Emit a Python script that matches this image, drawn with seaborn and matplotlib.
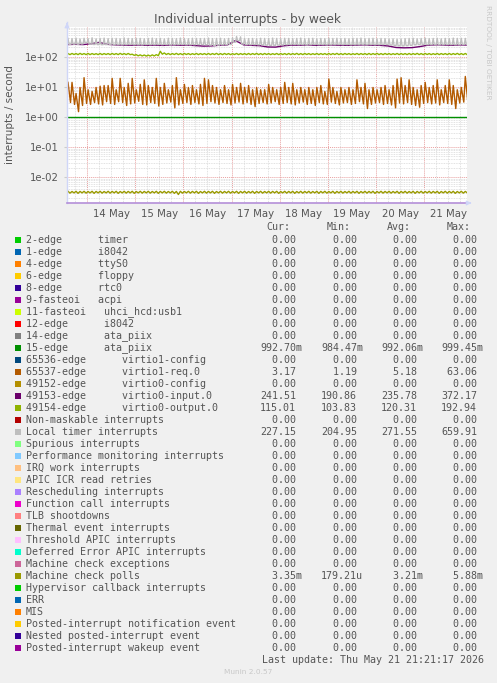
import numpy as np
import pandas as pd
import matplotlib
matplotlib.use("Agg")
import matplotlib.pyplot as plt
from matplotlib.patches import Rectangle
from matplotlib.ticker import FixedLocator, NullFormatter, LogLocator
import seaborn as sns

# ---------------- data ----------------
START = pd.Timestamp("2026-05-13 14:00")
END = pd.Timestamp("2026-05-21 21:21")
day_labels = ["14 May", "15 May", "16 May", "17 May", "18 May", "19 May", "20 May", "21 May"]
ytick_vals = [1e-2, 1e-1, 1e0, 1e1, 1e2]
ytick_labels = ["1e-02", "1e-01", "1e+00", "1e+01", "1e+02"]

# 65537-edge virtio1-req.0 : peaks / lows of each ~2 h cycle
orange_peaks = [14, 14, 6, 9.5, 20, 8, 7, 9.5, 10.5, 11,
                11, 19, 8, 19, 9.5, 13, 19, 8, 12, 17,
                11, 9.5, 19, 9.5, 13, 8, 11, 20, 8, 12,
                9.5, 11, 8, 12, 19, 17, 11, 9.5, 8, 11,
                8, 12, 9.5, 13, 9.5, 11, 8, 9.5, 8, 8,
                12, 9.5, 8, 9.5, 14, 9.5, 13, 8, 9.5, 8,
                9.5, 8, 9.5, 11, 7, 18, 9.5, 7, 9.5, 8,
                9.5, 8, 17, 9.5, 13, 8, 9.5, 8, 9.5, 11,
                8, 11, 18, 20, 11, 17, 9.5, 8, 11, 14,
                9.5, 11, 17, 8, 11, 17, 11, 8, 9.5, 22]
orange_lows = [3.0, 2.6, 1.5, 2.4, 2.8, 2.6, 3.0, 2.7, 2.5, 3.2,
               2.8, 2.6, 3.2, 3.0, 2.4, 2.7, 2.9, 3.3, 2.6, 2.5,
               3.0, 2.8, 2.3, 2.6, 2.9, 3.1, 2.0, 2.5, 2.8, 3.0,
               2.6, 3.0, 2.7, 2.4, 2.8, 3.2, 2.9, 2.6, 3.0, 2.8,
               2.5, 2.9, 3.1, 2.7, 3.0, 2.6, 2.2, 2.8, 3.0, 2.7,
               2.9, 3.2, 2.6, 2.8, 3.0, 2.7, 2.5, 2.9, 3.1, 2.6,
               2.8, 2.4, 3.0, 2.7, 2.6, 3.1, 2.8, 2.5, 2.9, 3.0,
               2.6, 2.8, 3.2, 2.7, 1.9, 2.6, 2.9, 3.0, 2.6, 2.8,
               2.5, 2.0, 2.9, 2.7, 3.0, 2.6, 2.4, 2.1, 2.8, 3.0,
               2.7, 2.9, 2.5, 3.0, 2.8, 2.6, 1.9, 2.9, 3.1, 3.2]

# Local timer interrupts : narrow spikes / base of each cycle
gray_peaks = [400, 395, 410, 385, 405, 395, 420, 390, 400, 410,
              395, 405, 400, 390, 415, 400, 395, 405, 400, 390,
              400, 410, 395, 400, 385, 405, 400, 395, 410, 400,
              390, 405, 400, 395, 400, 410, 395, 400, 405, 390,
              400, 420, 460, 450, 405, 395, 400, 390, 405, 400,
              395, 410, 400, 390, 405, 400, 395, 400, 410, 395,
              400, 405, 390, 400, 395, 410, 400, 405, 395, 400,
              390, 405, 400, 410, 395, 400, 405, 390, 400, 395,
              385, 390, 380, 385, 395, 400, 405, 390, 400, 410,
              395, 400, 405, 390, 400, 395, 410, 400, 405, 400]
gray_lows = [255, 258, 256, 262, 290, 258, 252, 250, 248, 250,
             252, 248, 250, 246, 250, 252, 248, 250, 246, 250,
             248, 250, 252, 248, 250, 246, 248, 250, 252, 248,
             246, 248, 250, 252, 248, 240, 236, 240, 246, 250,
             252, 300, 340, 260, 252, 248, 250, 246, 244, 240,
             236, 238, 240, 244, 248, 250, 252, 248, 250, 246,
             250, 252, 248, 250, 246, 248, 250, 252, 248, 250,
             246, 248, 250, 252, 248, 250, 246, 248, 250, 252,
             240, 232, 228, 226, 230, 236, 246, 250, 252, 248,
             250, 252, 248, 250, 252, 250, 248, 250, 252, 250]

# 49153-edge virtio0-input.0 : one value every 4 hours
purple_vals = [250, 255, 250, 265, 295, 255, 245, 240, 238, 242,
               236, 240, 235, 243, 238, 240, 232, 222, 226, 238,
               245, 340, 245, 236, 230, 208, 206, 228, 240, 238,
               244, 236, 240, 242, 238, 236, 240, 245, 238, 236,
               225, 200, 195, 198, 215, 240, 246, 242, 238, 244, 241]

# 49154-edge virtio0-output.0 : high / low of each cycle
green_hi = [126, 127, 126, 128, 126, 127, 126, 125, 127, 126,
            126, 127, 126, 128, 126, 127, 120, 116, 114, 113,
            112, 114, 116, 150, 132, 127, 126, 128, 126, 127,
            126, 125, 127, 126, 126, 127, 126, 128, 126, 127,
            126, 125, 127, 126, 126, 127, 126, 128, 126, 127,
            126, 125, 127, 126, 126, 127, 126, 128, 126, 127,
            126, 125, 127, 126, 126, 127, 126, 128, 126, 127,
            126, 125, 127, 126, 126, 127, 126, 128, 126, 127,
            126, 125, 127, 126, 126, 127, 126, 128, 126, 127,
            126, 125, 127, 126, 126, 127, 126, 128, 126, 127]
green_lo = [116, 117, 116, 117, 116, 116, 117, 116, 116, 117,
            116, 117, 116, 117, 116, 116, 110, 106, 105, 104,
            104, 105, 107, 120, 117, 116, 117, 116, 116, 117,
            116, 117, 116, 117, 116, 116, 117, 116, 116, 117,
            116, 117, 116, 117, 116, 116, 117, 116, 116, 117,
            116, 117, 116, 117, 116, 116, 117, 116, 116, 117,
            116, 117, 116, 117, 116, 116, 117, 116, 116, 117,
            116, 117, 116, 117, 116, 116, 117, 116, 116, 117,
            116, 117, 116, 117, 116, 116, 117, 116, 116, 117,
            116, 117, 116, 117, 116, 116, 117, 116, 116, 115]

# Machine check polls : high / low of each cycle
olive_hi = [
    3.45e-3, 3.40e-3, 3.45e-3, 3.42e-3, 3.45e-3, 3.40e-3, 3.45e-3, 3.42e-3, 3.45e-3, 3.40e-3,
    3.45e-3, 3.42e-3, 3.45e-3, 3.40e-3, 3.45e-3, 3.42e-3, 3.45e-3, 3.40e-3, 3.45e-3, 3.42e-3,
    3.45e-3, 3.40e-3, 3.45e-3, 3.42e-3, 3.45e-3, 3.40e-3, 3.45e-3, 3.42e-3, 3.45e-3, 3.40e-3,
    3.45e-3, 3.42e-3, 3.45e-3, 3.40e-3, 3.45e-3, 3.42e-3, 3.45e-3, 3.40e-3, 3.45e-3, 3.42e-3,
    3.45e-3, 3.40e-3, 3.45e-3, 3.42e-3, 3.45e-3, 3.40e-3, 3.45e-3, 3.42e-3, 3.45e-3, 3.40e-3,
    3.45e-3, 3.42e-3, 3.45e-3, 3.40e-3, 3.45e-3, 3.42e-3, 3.45e-3, 3.40e-3, 3.45e-3, 3.42e-3,
    3.45e-3, 3.40e-3, 3.45e-3, 3.42e-3, 3.45e-3, 3.40e-3, 3.45e-3, 3.42e-3, 3.45e-3, 3.40e-3,
    3.45e-3, 3.42e-3, 3.45e-3, 3.40e-3, 3.45e-3, 3.42e-3, 3.45e-3, 3.40e-3, 3.45e-3, 3.42e-3,
    3.45e-3, 3.40e-3, 3.45e-3, 3.42e-3, 3.45e-3, 3.40e-3, 3.45e-3, 3.42e-3, 3.45e-3, 3.40e-3,
    3.45e-3, 3.42e-3, 3.45e-3, 3.40e-3, 3.45e-3, 3.42e-3, 3.45e-3, 3.40e-3, 3.45e-3, 3.42e-3]
olive_lo = [
    3.00e-3, 3.05e-3, 2.95e-3, 3.05e-3, 3.00e-3, 3.05e-3, 2.95e-3, 3.05e-3, 3.00e-3, 3.05e-3,
    3.00e-3, 3.05e-3, 2.95e-3, 3.05e-3, 3.00e-3, 3.05e-3, 2.95e-3, 3.05e-3, 3.00e-3, 3.05e-3,
    3.00e-3, 3.05e-3, 2.95e-3, 3.05e-3, 3.00e-3, 3.05e-3, 2.95e-3, 2.70e-3, 3.00e-3, 3.05e-3,
    3.00e-3, 3.05e-3, 2.95e-3, 3.05e-3, 3.00e-3, 3.05e-3, 2.95e-3, 3.05e-3, 3.00e-3, 3.05e-3,
    3.00e-3, 3.05e-3, 2.95e-3, 3.05e-3, 3.00e-3, 3.05e-3, 2.95e-3, 3.05e-3, 3.00e-3, 3.05e-3,
    3.00e-3, 3.05e-3, 2.95e-3, 3.05e-3, 3.00e-3, 3.05e-3, 2.95e-3, 3.05e-3, 3.00e-3, 3.05e-3,
    3.00e-3, 3.05e-3, 2.95e-3, 3.05e-3, 3.00e-3, 3.05e-3, 2.95e-3, 3.05e-3, 3.00e-3, 3.05e-3,
    3.00e-3, 3.05e-3, 2.95e-3, 3.05e-3, 3.00e-3, 3.05e-3, 2.95e-3, 3.05e-3, 3.00e-3, 3.05e-3,
    3.00e-3, 3.05e-3, 2.95e-3, 3.05e-3, 3.00e-3, 3.05e-3, 2.95e-3, 3.05e-3, 3.00e-3, 3.05e-3,
    3.00e-3, 3.05e-3, 2.95e-3, 3.05e-3, 3.00e-3, 3.05e-3, 2.95e-3, 3.05e-3, 3.00e-3, 3.05e-3]

ata_level = [0.9927, 0.9927]   # 15-edge ata_piix, flat

legend_labels = [
    "2-edge      timer", "1-edge      i8042", "4-edge      ttyS0", "6-edge      floppy",
    "8-edge      rtc0", "9-fasteoi   acpi", "11-fasteoi   uhci_hcd:usb1", "12-edge      i8042",
    "14-edge      ata_piix", "15-edge      ata_piix", "65536-edge      virtio1-config",
    "65537-edge      virtio1-req.0", "49152-edge      virtio0-config",
    "49153-edge      virtio0-input.0", "49154-edge      virtio0-output.0",
    "Non-maskable interrupts", "Local timer interrupts", "Spurious interrupts",
    "Performance monitoring interrupts", "IRQ work interrupts", "APIC ICR read retries",
    "Rescheduling interrupts", "Function call interrupts", "TLB shootdowns",
    "Thermal event interrupts", "Threshold APIC interrupts", "Deferred Error APIC interrupts",
    "Machine check exceptions", "Machine check polls", "Hypervisor callback interrupts",
    "ERR", "MIS", "Posted-interrupt notification event", "Nested posted-interrupt event",
    "Posted-interrupt wakeup event"]
legend_colors = [
    "#00CC00", "#0066B3", "#FF8000", "#FFCC00", "#330099", "#990099", "#CCFF00", "#FF0000",
    "#808080", "#008F00", "#00487D", "#B35A00", "#B38F00", "#6B006B", "#8FB300", "#B30000",
    "#BEBEBE", "#80FF80", "#80C9FF", "#FFC080", "#FFE680", "#AA80FF", "#EE00CC", "#FF8080",
    "#666600", "#FFBFFF", "#00FFCC", "#CC6699", "#999900", "#00CC00", "#0066B3", "#FF8000",
    "#FFCC00", "#330099", "#990099"]
n_leg = len(legend_labels)
cur_vals = [0.0] * n_leg
min_vals = [0.0] * n_leg
avg_vals = [0.0] * n_leg
max_vals = [0.0] * n_leg
nonzero = {
    "15-edge      ata_piix": (0.99270, 0.98447, 0.99206, 0.99945),
    "65537-edge      virtio1-req.0": (3.17, 1.19, 5.18, 63.06),
    "49153-edge      virtio0-input.0": (241.51, 190.86, 235.78, 372.17),
    "49154-edge      virtio0-output.0": (115.01, 103.83, 120.31, 192.94),
    "Local timer interrupts": (227.15, 204.95, 271.55, 659.91),
    "Machine check polls": (3.35e-3, 179.21e-6, 3.21e-3, 5.88e-3),
}
for k, (c, mn, a, mx) in nonzero.items():
    i = legend_labels.index(k)
    cur_vals[i], min_vals[i], avg_vals[i], max_vals[i] = c, mn, a, mx

# ---------------- helpers ----------------
def t_of(h):
    return START + pd.to_timedelta(np.asarray(h, dtype=float), unit="h")

def sawtooth(peaks, lows, t_peak=0.5, t_low=1.75):
    tp = t_peak + 2.0 * np.arange(len(peaks))
    tl = t_low + 2.0 * np.arange(len(lows))
    h = np.concatenate([tp, tl])
    v = np.concatenate([np.asarray(peaks, float), np.asarray(lows, float)])
    o = np.argsort(h)
    return pd.DataFrame({"t": t_of(h[o]), "v": v[o]})

def spiky(peaks, lows):
    tp = 0.5 + 2.0 * np.arange(len(peaks))
    tl1 = 1.0 + 2.0 * np.arange(len(lows))
    tl2 = 2.0 + 2.0 * np.arange(len(lows))
    h = np.concatenate([tp, tl1, tl2])
    v = np.concatenate([np.asarray(peaks, float), np.asarray(lows, float), np.asarray(lows, float)])
    o = np.argsort(h, kind="stable")
    return pd.DataFrame({"t": t_of(h[o]), "v": v[o]})

def si(v):
    if v == 0:
        return "  0.00"
    e = int(np.floor(np.log10(abs(v)) / 3.0) * 3)
    suf = {0: "", -3: "m", -6: "u", 3: "k"}[e]
    return f"{v / 10 ** e:6.2f}{suf}"

# ---------------- figure ----------------
W, H = 497, 683
fig = plt.figure(figsize=(W / 100, H / 100), dpi=100, facecolor="#F0F0F0")
L, R, T, B = 67, 467, 27, 203
ax = fig.add_axes([L / W, 1 - B / H, (R - L) / W, (B - T) / H])
ax.set_facecolor("white")
ax.set_yscale("log")
ylo, yhi = 10 ** -2.85, 10 ** 2.98
ax.set_ylim(ylo, yhi)
ax.set_xlim(START, END)

# grid
ax.yaxis.set_major_locator(FixedLocator(ytick_vals))
ax.set_yticklabels(ytick_labels)
ax.yaxis.set_minor_locator(LogLocator(base=10, subs=np.arange(2, 10)))
ax.yaxis.set_minor_formatter(NullFormatter())
ax.grid(which="minor", axis="y", color="#D8D8D8", linestyle=(0, (1, 1)), linewidth=0.6)
ax.grid(which="major", axis="y", color="#E8A0A0", linestyle=(0, (1, 1)), linewidth=0.7)
grid_times = pd.date_range(START.ceil("6h"), END, freq="6h")
for gt in grid_times:
    if gt.hour == 0:
        ax.axvline(gt, color="#E8A0A0", linestyle=(0, (1, 1)), linewidth=0.7, zorder=0.6)
    else:
        ax.axvline(gt, color="#D8D8D8", linestyle=(0, (1, 1)), linewidth=0.6, zorder=0.5)

# x ticks at noon
noon = pd.date_range("2026-05-14 12:00", periods=len(day_labels), freq="1D")
ax.set_xticks(noon)
ax.set_xticklabels(day_labels)
ax.tick_params(axis="x", length=0, pad=4, labelsize=7.3, labelcolor="#555555")
ax.tick_params(axis="y", which="major", length=2, color="#CCCCCC", pad=4, labelsize=7.3,
               labelcolor="#555555")
ax.tick_params(axis="y", which="minor", length=0)
for s in ax.spines.values():
    s.set_visible(False)

# series
lw = 1.0
sns.lineplot(x=[START, END], y=ata_level, color="#008F00", lw=lw, ax=ax)
d = sawtooth(orange_peaks, orange_lows)
sns.lineplot(data=d, x="t", y="v", color="#B35A00", lw=lw, ax=ax, estimator=None, sort=False)
pv = pd.DataFrame({"t": t_of(4.0 * np.arange(len(purple_vals))), "v": purple_vals})
sns.lineplot(data=pv, x="t", y="v", color="#6B006B", lw=lw, ax=ax, estimator=None, sort=False)
d = sawtooth(green_hi, green_lo, 0.5, 1.5)
sns.lineplot(data=d, x="t", y="v", color="#8FB300", lw=lw, ax=ax, estimator=None, sort=False)
d = spiky(gray_peaks, gray_lows)
sns.lineplot(data=d, x="t", y="v", color="#BEBEBE", lw=lw, ax=ax, estimator=None, sort=False)
d = sawtooth(olive_hi, olive_lo, 0.5, 1.5)
sns.lineplot(data=d, x="t", y="v", color="#999900", lw=lw, ax=ax, estimator=None, sort=False)
ax.set_xlim(START, END)
ax.set_ylim(ylo, yhi)
ax.set_xlabel("")
ax.set_ylabel("")

# zero line / axes
ax.axhline(ylo * 1.02, color="#B48FD8", lw=1.2, zorder=3, clip_on=False)
ax.plot([0, 0], [0, 1.03], transform=ax.transAxes, color="#CFD6F8", lw=1.0, clip_on=False)
ax.annotate("", xy=(0, 1.04), xytext=(0, 1.0), xycoords="axes fraction",
            arrowprops=dict(arrowstyle="-|>", color="#CFD6F8", lw=0.8, mutation_scale=7),
            annotation_clip=False)
ax.annotate("", xy=(1.018, 0), xytext=(1.0, 0), xycoords="axes fraction",
            arrowprops=dict(arrowstyle="-|>", color="#CFD6F8", lw=0.8, mutation_scale=7),
            annotation_clip=False)

# texts
def fx(x):
    return x / W

def fy(y):
    return 1 - y / H

fig.text(fx(248), fy(19), "Individual interrupts - by week", ha="center", va="center",
         fontsize=8.8, color="#555555")
fig.text(fx(10), fy(115), "interrupts / second", ha="center", va="center", rotation=90,
         fontsize=7.5, color="#555555")
fig.text(fx(488), fy(52), "RRDTOOL / TOBI OETIKER", ha="center", va="center", rotation=270,
         fontsize=5.3, color="#C8C8C8")

mono = dict(family="DejaVu Sans Mono", fontsize=7.2, color="#555555", va="center", ha="left")
for txt, x in [("Cur:", 266), ("Min:", 327), ("Avg:", 387), ("Max:", 447)]:
    fig.text(fx(x), fy(227), txt, **mono)
for i, lab in enumerate(legend_labels):
    y = 240 + 12 * i
    fig.patches.append(Rectangle((fx(14.5), fy(y + 3)), 6 / W, 6 / H, transform=fig.transFigure,
                                 facecolor=legend_colors[i], edgecolor="none"))
    fig.text(fx(26), fy(y), lab, **mono)
    for x, vals in [(260, cur_vals), (321, min_vals), (381, avg_vals), (441, max_vals)]:
        fig.text(fx(x), fy(y), si(vals[i]), **mono)
fig.text(fx(262), fy(660), "Last update: Thu May 21 21:21:17 2026", **mono)
fig.text(fx(248), fy(672), "Munin 2.0.57", ha="center", va="center", fontsize=5.3, color="#C8C8C8")

fig.savefig("out.png", dpi=100, facecolor="#F0F0F0")
